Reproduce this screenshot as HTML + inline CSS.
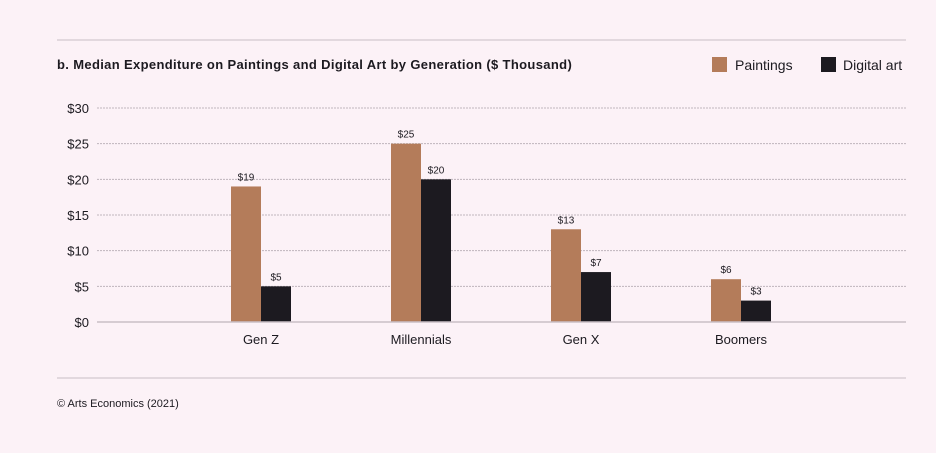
<!DOCTYPE html>
<html><head><meta charset="utf-8"><style>
html,body{margin:0;padding:0;background:#fcf2f7;}
body{width:936px;height:448px;overflow:hidden;font-family:"Liberation Sans",sans-serif;}
svg text{font-family:"Liberation Sans",sans-serif;}
</style></head><body>
<svg id="chart" width="936" height="448" xmlns="http://www.w3.org/2000/svg">
<rect width="936" height="448" fill="#fcf2f7"/>
<line x1="57" y1="40" x2="906" y2="40" stroke="#c9bfc6" stroke-width="1"/>
<text x="57" y="69" font-size="13" font-weight="bold" letter-spacing="0.2" textLength="515" lengthAdjust="spacing" fill="#1c1a20">b. Median Expenditure on Paintings and Digital Art by Generation ($ Thousand)</text>
<g>
<rect x="712" y="57" width="15" height="15" fill="#b47c5a"/>
<text x="735" y="70" font-size="14" fill="#1c1a20">Paintings</text>
<rect x="821" y="57" width="15" height="15" fill="#1c1a20"/>
<text x="843" y="70" font-size="14" fill="#1c1a20">Digital art</text>
</g>
<g id="grid"></g><g id="bars"></g>
<line x1="97" y1="322" x2="906" y2="322" stroke="#c9bfc6" stroke-width="1.5"/>
<line x1="57" y1="378" x2="906" y2="378" stroke="#c9bfc6" stroke-width="1"/>
<text x="57" y="407" font-size="11" fill="#1c1a20">© Arts Economics (2021)</text>
</svg>
<script>
const categories = ["Gen Z","Millennials","Gen X","Boomers"];
const paintings = [19,25,13,6];
const digitalArt = [5,20,7,3];
const yTicks = [0,5,10,15,20,25,30];
const NS="http://www.w3.org/2000/svg";
const y0=322, yTop=108, yMax=30;
function yScale(v){return y0-(v/yMax)*(y0-yTop);}
function xCenter(i){return 261+i*160;}
const barW=30;
function mk(tag,attrs,parent){const e=document.createElementNS(NS,tag);for(const k in attrs)e.setAttribute(k,attrs[k]);parent.appendChild(e);return e;}
const grid=document.getElementById('grid'), bars=document.getElementById('bars');
yTicks.forEach(t=>{
  const y=yScale(t);
  if(t>0){const l=mk('line',{x1:97,x2:906,y1:y,y2:y,stroke:'#bfb5bc','stroke-width':1,'stroke-dasharray':'2,1'},grid);
  
  }
  const tx=mk('text',{x:89,y:y+5,'font-size':13,fill:'#1c1a20','text-anchor':'end'},grid);
  tx.textContent='$'+t;
  
  
});
categories.forEach((c,i)=>{
  const cx=xCenter(i);
  [[paintings[i],'#b47c5a',cx-barW,'paintings'],[digitalArt[i],'#1c1a20',cx,'digital-art']].forEach(([v,col,x,s])=>{
    const r=mk('rect',{x:x,y:yScale(v),width:barW,height:y0-yScale(v),fill:col},bars);
    
    
    const t=mk('text',{x:x+barW/2,y:yScale(v)-6,'font-size':10,fill:'#1c1a20','text-anchor':'middle'},bars);
    t.textContent='$'+v;
    
    
  });
  const lab=mk('text',{x:cx,y:344,'font-size':13,fill:'#1c1a20','text-anchor':'middle'},bars);
  lab.textContent=c;
  
  
});
</script>
</body></html>
